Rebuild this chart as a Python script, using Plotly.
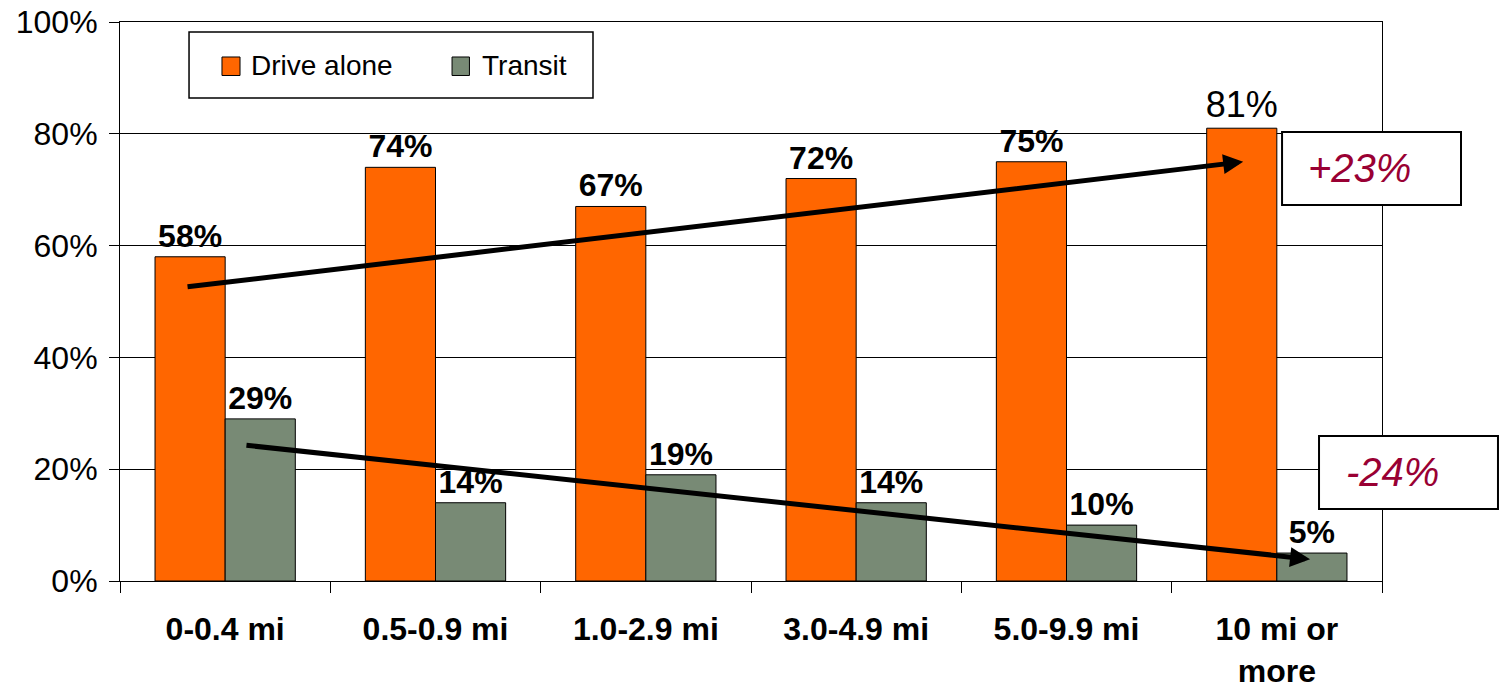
import plotly.graph_objects as go

# Commute distance bands and mode shares (%)
categories = ["0-0.4 mi", "0.5-0.9 mi", "1.0-2.9 mi", "3.0-4.9 mi", "5.0-9.9 mi", "10 mi or<br>more"]
drive_alone = [58, 74, 67, 72, 75, 81]
transit = [29, 14, 19, 14, 10, 5]
y_ticks = [0, 20, 40, 60, 80, 100]
series_names = ["Drive alone", "Transit"]

FONT = "Liberation Sans, Arial, sans-serif"
ORANGE = "#FF6600"
GREEN = "#788A75"
CRIMSON = "#990033"


def bold_labels(values, plain_last=False):
    out = []
    for i, v in enumerate(values):
        if plain_last and i == len(values) - 1:
            out.append(f"{v}%")
        else:
            out.append(f"<b>{v}%</b>")
    return out


fig = go.Figure()
fig.add_trace(go.Bar(
    name=series_names[0], x=categories, y=drive_alone,
    marker=dict(color=ORANGE, line=dict(color="black", width=1)),
    text=bold_labels(drive_alone, plain_last=True), textposition="outside",
    textfont=dict(family=FONT, color="black",
                  size=[32] * (len(drive_alone) - 1) + [36]),
    constraintext="none", cliponaxis=False, showlegend=False,
))
fig.add_trace(go.Bar(
    name=series_names[1], x=categories, y=transit,
    marker=dict(color=GREEN, line=dict(color="black", width=1)),
    text=bold_labels(transit), textposition="outside",
    textfont=dict(family=FONT, color="black", size=32),
    constraintext="none", cliponaxis=False, showlegend=False,
))

# Trend arrows (tip at x/y, tail at ax/ay in data coordinates)
arrows = [
    dict(x=4.84, y=75.0, ax=-0.186, ay=52.6),
    dict(x=5.158, y=3.9, ax=0.094, ay=24.3),
]
for a in arrows:
    fig.add_annotation(x=a["x"], y=a["y"], ax=a["ax"], ay=a["ay"],
                       xref="x", yref="y", axref="x", ayref="y",
                       showarrow=True, arrowhead=2, arrowsize=0.8,
                       arrowwidth=5, arrowcolor="black", text="")

# Change call-out boxes
callouts = [
    dict(x0=0.9208, x1=1.0626, y0=0.6726, y1=0.8032, tx=0.9397, ty=0.739, text="+23%"),
    dict(x0=0.9501, x1=1.0919, y0=0.1288, y1=0.2594, tx=0.9699, ty=0.195, text="-24%"),
]
for c in callouts:
    fig.add_shape(type="rect", xref="paper", yref="paper",
                  x0=c["x0"], x1=c["x1"], y0=c["y0"], y1=c["y1"],
                  line=dict(color="black", width=2), fillcolor="white", layer="above")
    fig.add_annotation(x=c["tx"], y=c["ty"], xref="paper", yref="paper",
                       xanchor="left", yanchor="middle", showarrow=False,
                       text=f"<i>{c['text']}</i>",
                       font=dict(family=FONT, size=40, color=CRIMSON))

# Legend box drawn with shapes so the swatches match the chart's style
fig.add_shape(type="rect", xref="paper", yref="paper",
              x0=0.0547, x1=0.3748, y0=0.8640, y1=0.9821,
              line=dict(color="black", width=1.5), fillcolor="white", layer="above")
legend_items = [
    dict(color=ORANGE, sx0=0.0808, sx1=0.0951, tx=0.1022),
    dict(color=GREEN, sx0=0.2631, sx1=0.2769, tx=0.2853),
]
for name, item in zip(series_names, legend_items):
    fig.add_shape(type="rect", xref="paper", yref="paper",
                  x0=item["sx0"], x1=item["sx1"], y0=0.9043, y1=0.9374,
                  line=dict(color="black", width=1), fillcolor=item["color"], layer="above")
    fig.add_annotation(x=item["tx"], y=0.9213, xref="paper", yref="paper",
                       xanchor="left", yanchor="middle", showarrow=False,
                       text=name, font=dict(family=FONT, size=28, color="black"))

fig.update_layout(
    width=1503, height=689,
    margin=dict(l=120, r=121, t=22, b=108, autoexpand=False),
    paper_bgcolor="white", plot_bgcolor="white",
    barmode="group", bargap=0.333, bargroupgap=0,
    font=dict(family=FONT, color="black"),
    showlegend=False,
)
fig.update_xaxes(
    type="category", showgrid=False, showline=True, linecolor="black", linewidth=1,
    mirror=True, ticks="outside", tickson="boundaries", ticklen=11,
    tickcolor="black", tickwidth=1, automargin=False, ticklabelstandoff=20,
    tickfont=dict(family=FONT, size=32, color="black", weight="bold"),
)
fig.update_yaxes(
    range=[0, 100], tickvals=y_ticks, ticktext=[f"{v}%" for v in y_ticks],
    showgrid=True, gridcolor="black", gridwidth=1,
    showline=True, linecolor="black", linewidth=1, mirror=True,
    ticks="outside", ticklen=10, tickcolor="black", tickwidth=1,
    automargin=False, ticklabelstandoff=5,
    tickfont=dict(family=FONT, size=32, color="black"),
    zeroline=False,
)

fig.write_html("out.html")
